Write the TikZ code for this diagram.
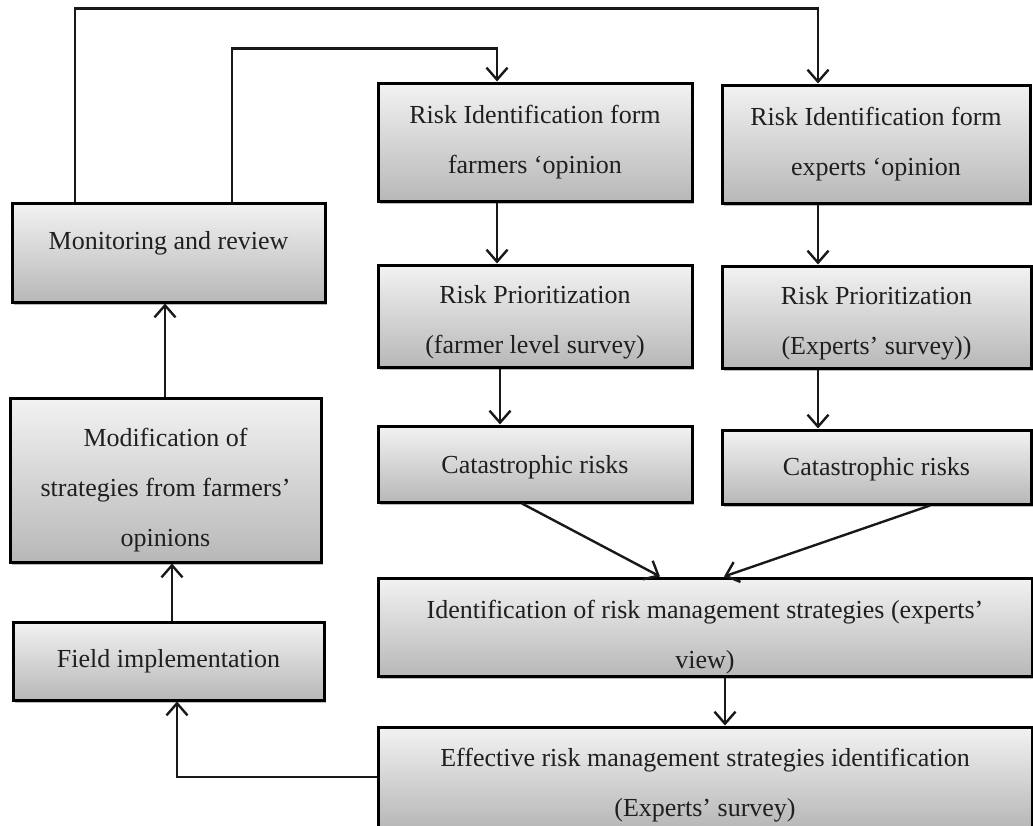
\documentclass[tikz,border=0pt]{standalone}
\usepackage{fontspec}
\setmainfont{Liberation Serif}
\usetikzlibrary{arrows.meta, shadows}

\begin{document}
\begin{tikzpicture}[x=1pt, y=-1pt,
    every node/.style={font=\fontsize{26}{50}\selectfont, text=black!88},
    box/.style={draw=black, line width=3pt, rectangle, align=center, inner sep=0pt,
      top color=black!5, bottom color=black!28,
      drop shadow={shadow xshift=1.5pt, shadow yshift=-2.5pt, fill=black!60, opacity=0.45}},
    arr/.style={line width=2.4pt, black!90, -{Straight Barb[length=12pt, width=21pt, line width=2.4pt]}}
  ]
  \useasboundingbox (0,0) rectangle (1033,825);

  % linke Spalte
  \node[box, minimum width=313pt, minimum height=99pt, text depth=24pt] (monitor) at (168.5,252.5) {Monitoring and review};
  \node[box, minimum width=311pt, minimum height=164pt, text height=138pt] (modif) at (165.5,480) {Modification of\\strategies from farmers'\\opinions};
  \node[box, minimum width=311pt, minimum height=78pt] (field) at (168.5,661) {Field implementation};

  % Bauern
  \node[box, minimum width=314pt, minimum height=118pt] (idfarm) at (535,142) {Risk Identification form\\farmers `opinion};
  \node[box, minimum width=314pt, minimum height=102pt, text height=80pt] (prfarm) at (535,316) {Risk Prioritization\\(farmer level survey)};
  \node[box, minimum width=314pt, minimum height=76pt, text height=24pt] (catfarm) at (535,464) {Catastrophic risks};

  % Experten
  \node[box, minimum width=308pt, minimum height=118pt] (idexp) at (876,144) {Risk Identification form\\experts `opinion};
  \node[box, minimum width=309pt, minimum height=102pt, text height=80pt] (prexp) at (876.5,317) {Risk Prioritization\\(Experts' survey))};
  \node[box, minimum width=309pt, minimum height=74pt, text height=22pt] (catexp) at (876.5,467) {Catastrophic risks};

  % Strategien
  \node[box, minimum width=654pt, minimum height=98pt, text height=88pt] (ident) at (705,627) {Identification of risk management strategies (experts'\\view)};
  \node[box, minimum width=654pt, minimum height=100pt, text height=84pt] (effect) at (705,777) {Effective risk management strategies identification\\(Experts' survey)};

  % Rueckkopplung oben
  \draw[arr] ([xshift=-93.5pt]monitor.north) -- ++(0,-193) -| ([xshift=-58pt]idexp.north);
  \draw[arr] ([xshift=63.5pt]monitor.north) -- ++(0,-153) -| ([xshift=-38pt]idfarm.north);

  % senkrechte Pfeile
  \draw[arr] ([xshift=-38pt]idfarm.south) -- ([xshift=-38pt]prfarm.north);
  \draw[arr] ([xshift=-35pt]prfarm.south) -- ([xshift=-35pt]catfarm.north);
  \draw[arr] ([xshift=-58pt]idexp.south) -- ([xshift=-58.5pt]prexp.north);
  \draw[arr] ([xshift=-58.5pt]prexp.south) -- ([xshift=-58.5pt]catexp.north);

  % zusammenfuehren
  \draw[arr] ([xshift=-13pt]catfarm.south) -- ([xshift=-45pt]ident.north);
  \draw[arr] ([xshift=53.5pt]catexp.south) -- ([xshift=19pt]ident.north);
  \draw[arr] ([xshift=20pt]ident.south) -- ([xshift=20pt]effect.north);

  % zurueck nach links
  \draw[arr] (effect.west) -| ([xshift=8.5pt]field.south);
  \draw[arr] ([xshift=3.5pt]field.north) -- ([xshift=6.5pt]modif.south);
  \draw[arr] ([xshift=-0.5pt]modif.north) -- ([xshift=-3.5pt]monitor.south);

\end{tikzpicture}
\end{document}
